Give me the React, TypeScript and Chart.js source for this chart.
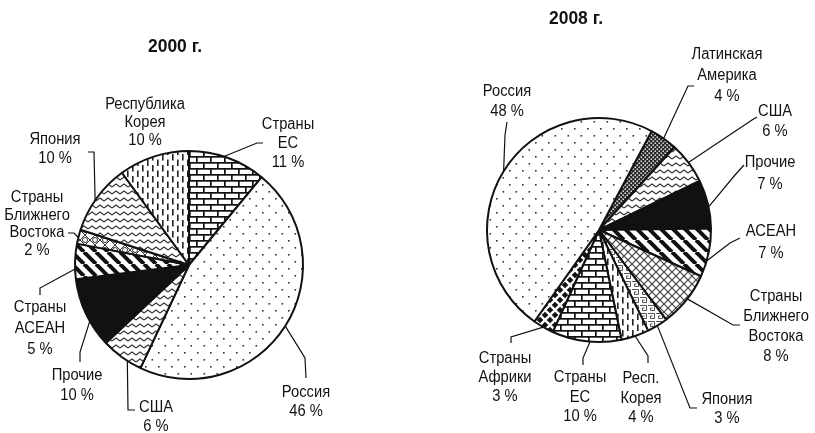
import React, { useEffect, useRef } from 'react';
import { Chart, registerables } from 'chart.js';

Chart.register(...registerables);

const W = 815;
const H = 433;

// ---------- 2000 ----------
const categories2000 = ['Страны ЕС', 'Россия', 'США', 'Прочие', 'Страны АСЕАН', 'Страны Ближнего Востока', 'Япония', 'Республика Корея'];
const values2000 = [11, 46, 6, 10, 5, 2, 10, 10];
const labelLines2000 = [['Страны', 'ЕС'], ['Россия'], ['США'], ['Прочие'], ['Страны', 'АСЕАН'], ['Страны', 'Ближнего', 'Востока'], ['Япония'], ['Республика', 'Корея']];
const patterns2000 = ['bricks', 'dots', 'zigzag', 'solid', 'stripes', 'rings', 'zigzag', 'dashes'];

// ---------- 2008 ----------
const categories2008 = ['Латинская Америка', 'США', 'Прочие', 'АСЕАН', 'Страны Ближнего Востока', 'Япония', 'Респ. Корея', 'Страны ЕС', 'Страны Африки', 'Россия'];
const values2008 = [4, 6, 7, 7, 8, 3, 4, 10, 3, 48];
const labelLines2008 = [['Латинская', 'Америка'], ['США'], ['Прочие'], ['АСЕАН'], ['Страны', 'Ближнего', 'Востока'], ['Япония'], ['Респ.', 'Корея'], ['Страны', 'ЕС'], ['Страны', 'Африки'], ['Россия']];
const patterns2008 = ['checker', 'zigzag', 'solid', 'stripes', 'grid', 'maze', 'dashes', 'bricks', 'diamonds', 'dots'];

// ---------- layout (positions only) ----------
type LabelPos = { x: number; y: number; lh: number; t: number | null; pts: number[][] };

const layout2000 = {
  title: '2000 г.', titleX: 175, titleY: 47,
  cx: 189, cy: 265, r: 114, rotation: 0,
  labels: [
    { x: 288, y: 125, lh: 19, t: 0.45, pts: [[257, 143], [263, 143]] },
    { x: 306, y: 393, lh: 19, t: 0.5, pts: [[305, 358], [306, 378]] },
    { x: 156, y: 408, lh: 19, t: 0.35, pts: [[128, 410], [135, 410]] },
    { x: 77, y: 376, lh: 19.5, t: 0.38, pts: [[80, 352], [80, 362]] },
    { x: 40, y: 308, lh: 21, t: 0.29, pts: [[40, 288], [40, 295]] },
    { x: 37, y: 198, lh: 17.5, t: 0.44, pts: [[74, 233], [68, 233]] },
    { x: 55, y: 140, lh: 19, t: 0.46, pts: [[94, 152], [88, 152]] },
    { x: 145, y: 105, lh: 18, t: null, pts: [] },
  ] as LabelPos[],
};

const layout2008 = {
  title: '2008 г.', titleX: 576, titleY: 19,
  cx: 599, cy: 230, r: 112, rotation: 28,
  labels: [
    { x: 727, y: 55, lh: 21, t: 0.5, pts: [[688, 86], [694, 86]] },
    { x: 775, y: 112, lh: 20, t: 0.49, pts: [[752, 120], [757, 117]] },
    { x: 770, y: 163, lh: 22, t: 0.56, pts: [[735, 175], [744, 165]] },
    { x: 771, y: 232, lh: 22, t: 0.67, pts: [[730, 243], [740, 238]] },
    { x: 776, y: 297, lh: 20, t: 0.47, pts: [[733, 325], [740, 325]] },
    { x: 727, y: 400, lh: 19, t: 0.5, pts: [[690, 408], [697, 408]] },
    { x: 641, y: 379, lh: 19.5, t: 0.5, pts: [[648, 356], [648, 363]] },
    { x: 580, y: 378, lh: 19.5, t: 0.45, pts: [[583, 358], [583, 365]] },
    { x: 505, y: 359, lh: 19, t: 0.5, pts: [[511, 337], [511, 343]] },
    { x: 507, y: 92, lh: 20, t: 0.5, pts: [[505, 135], [507, 122]] },
  ] as LabelPos[],
};

const FONT = '"Liberation Sans", Arial, Helvetica, sans-serif';
const TEXT_SIZE = 16;
const TEXT_SCALE_X = 0.92;
const TITLE_SIZE = 19;
const TITLE_SCALE_X = 0.92;

// ---------- patterns ----------
function tile(w: number, h: number, draw: (g: CanvasRenderingContext2D) => void) {
  const c = document.createElement('canvas');
  c.width = w;
  c.height = h;
  const g = c.getContext('2d')!;
  g.fillStyle = '#fff';
  g.fillRect(0, 0, w, h);
  draw(g);
  return c;
}

function diag(g: CanvasRenderingContext2D, s: number, dir: 1 | -1) {
  g.beginPath();
  for (const o of [-s, 0, s]) {
    if (dir === 1) {
      g.moveTo(o, 0);
      g.lineTo(o + s, s);
    } else {
      g.moveTo(o + s, 0);
      g.lineTo(o, s);
    }
  }
  g.stroke();
}

const tiles: Record<string, () => HTMLCanvasElement> = {
  dots: () => tile(13, 14, (g) => {
    g.fillStyle = '#333';
    g.fillRect(2, 2, 1.6, 1.6);
    g.fillRect(8.5, 9, 1.6, 1.6);
  }),
  bricks: () => tile(14, 12, (g) => {
    g.fillStyle = '#111';
    g.fillRect(0, 0, 14, 1.7);
    g.fillRect(0, 6, 14, 1.7);
    g.fillRect(0, 0, 1.7, 6);
    g.fillRect(7, 6, 1.7, 6);
  }),
  zigzag: () => tile(8, 7, (g) => {
    g.strokeStyle = '#333';
    g.lineWidth = 1.1;
    g.beginPath();
    g.moveTo(0, 5);
    g.lineTo(4, 2);
    g.lineTo(8, 5);
    g.stroke();
  }),
  stripes: () => tile(12, 12, (g) => {
    g.strokeStyle = '#111';
    g.lineWidth = 4;
    diag(g, 12, 1);
  }),
  grid: () => tile(8, 8, (g) => {
    g.strokeStyle = '#444';
    g.lineWidth = 1.2;
    diag(g, 8, 1);
    diag(g, 8, -1);
  }),
  rings: () => tile(10, 10, (g) => {
    g.strokeStyle = '#333';
    g.lineWidth = 1;
    diag(g, 10, 1);
    diag(g, 10, -1);
    g.fillStyle = '#fff';
    g.beginPath();
    g.arc(5, 0, 2.5, 0, Math.PI * 2);
    g.arc(5, 10, 2.5, 0, Math.PI * 2);
    g.fill();
    g.beginPath();
    g.arc(5, 0, 2.5, 0, Math.PI * 2);
    g.stroke();
    g.beginPath();
    g.arc(5, 10, 2.5, 0, Math.PI * 2);
    g.stroke();
  }),
  checker: () => tile(4, 4, (g) => {
    g.fillStyle = '#2a2a2a';
    g.fillRect(0, 0, 4, 4);
    g.fillStyle = '#fff';
    g.fillRect(0.5, 0.5, 1.4, 1.4);
    g.fillRect(2.5, 2.5, 1.4, 1.4);
  }),
  diamonds: () => tile(10, 10, (g) => {
    g.fillStyle = '#111';
    const d = (x: number, y: number) => {
      g.beginPath();
      g.moveTo(x, y - 3.3);
      g.lineTo(x + 3.3, y);
      g.lineTo(x, y + 3.3);
      g.lineTo(x - 3.3, y);
      g.closePath();
      g.fill();
    };
    d(5, 5);
    d(0, 0);
    d(10, 0);
    d(0, 10);
    d(10, 10);
  }),
  maze: () => tile(8, 8, (g) => {
    g.strokeStyle = '#555';
    g.lineWidth = 1;
    g.beginPath();
    g.moveTo(0, 1.5);
    g.lineTo(6.5, 1.5);
    g.lineTo(6.5, 6.5);
    g.lineTo(2.5, 6.5);
    g.lineTo(2.5, 4);
    g.lineTo(4.5, 4);
    g.stroke();
  }),
  dashes: () => tile(10, 11, (g) => {
    g.fillStyle = '#222';
    g.fillRect(2, 0, 1.6, 6.5);
    g.fillRect(7, 5.5, 1.6, 6.5);
    g.fillRect(7, -5.5, 1.6, 6.5);
  }),
};

function makeFill(ctx: CanvasRenderingContext2D, name: string): string | CanvasPattern {
  if (name === 'solid') return '#111';
  const t = tiles[name]();
  return ctx.createPattern(t, 'repeat') || '#fff';
}

function scaledText(ctx: CanvasRenderingContext2D, s: string, x: number, y: number, sx: number) {
  ctx.save();
  ctx.translate(x, y);
  ctx.scale(sx, 1);
  ctx.fillText(s, 0, 0);
  ctx.restore();
}

// ---------- label plugin ----------
const leaderPlugin = {
  id: 'leaderLabels',
  afterDraw(chart: any, _args: any, opts: any) {
    const ctx: CanvasRenderingContext2D = chart.ctx;
    const meta = chart.getDatasetMeta(0);
    const values: number[] = chart.data.datasets[0].data;
    const lines: string[][] = opts.lines;
    const lay = opts.layout;
    ctx.save();
    ctx.fillStyle = '#111';
    ctx.textAlign = 'center';
    ctx.textBaseline = 'middle';
    ctx.font = `bold ${TITLE_SIZE}px ${FONT}`;
    scaledText(ctx, lay.title, lay.titleX, lay.titleY, TITLE_SCALE_X);

    ctx.font = `${TEXT_SIZE}px ${FONT}`;
    lay.labels.forEach((L: LabelPos, i: number) => {
      const text = [...lines[i], `${values[i]} %`];
      text.forEach((s, k) => scaledText(ctx, s, L.x, L.y + k * L.lh, TEXT_SCALE_X));
      if (L.t !== null && L.pts.length) {
        const arc = meta.data[i];
        const p = arc.getProps(['x', 'y', 'startAngle', 'endAngle', 'outerRadius'], true);
        const a = p.startAngle + (p.endAngle - p.startAngle) * L.t;
        const sx = p.x + p.outerRadius * Math.cos(a);
        const sy = p.y + p.outerRadius * Math.sin(a);
        ctx.beginPath();
        ctx.strokeStyle = '#111';
        ctx.lineWidth = 1.2;
        ctx.moveTo(sx, sy);
        L.pts.forEach((q) => ctx.lineTo(q[0], q[1]));
        ctx.stroke();
      }
    });
    ctx.restore();
  },
};

function buildChart(canvas: HTMLCanvasElement, labels: string[], values: number[], pats: string[], lines: string[][], lay: any) {
  const ctx = canvas.getContext('2d')!;
  const bw = 2;
  const side = 2 * lay.r + bw;
  const left = lay.cx - side / 2;
  const top = lay.cy - side / 2;
  return new Chart(canvas, {
    type: 'pie',
    data: {
      labels,
      datasets: [
        {
          data: values,
          backgroundColor: pats.map((p) => makeFill(ctx, p)),
          borderColor: '#111',
          borderWidth: bw,
        },
      ],
    },
    options: {
      responsive: false,
      animation: false,
      rotation: lay.rotation,
      layout: { padding: { left, top, right: W - left - side, bottom: H - top - side } },
      plugins: {
        legend: { display: false },
        tooltip: { enabled: false },
        title: { display: false },
        leaderLabels: { lines, layout: lay },
      } as any,
    },
    plugins: [leaderPlugin],
  });
}

export default function App() {
  const c1 = useRef<HTMLCanvasElement>(null);
  const c2 = useRef<HTMLCanvasElement>(null);

  useEffect(() => {
    document.body.style.margin = '0';
    const a = buildChart(c1.current!, categories2000, values2000, patterns2000, labelLines2000, layout2000);
    const b = buildChart(c2.current!, categories2008, values2008, patterns2008, labelLines2008, layout2008);
    return () => {
      a.destroy();
      b.destroy();
    };
  }, []);

  const cs: React.CSSProperties = { position: 'absolute', left: 0, top: 0, width: W, height: H };
  return (
    <div style={{ position: 'relative', width: W, height: H, background: '#fff' }}>
      <canvas ref={c1} width={W} height={H} style={cs} />
      <canvas ref={c2} width={W} height={H} style={cs} />
    </div>
  );
}
